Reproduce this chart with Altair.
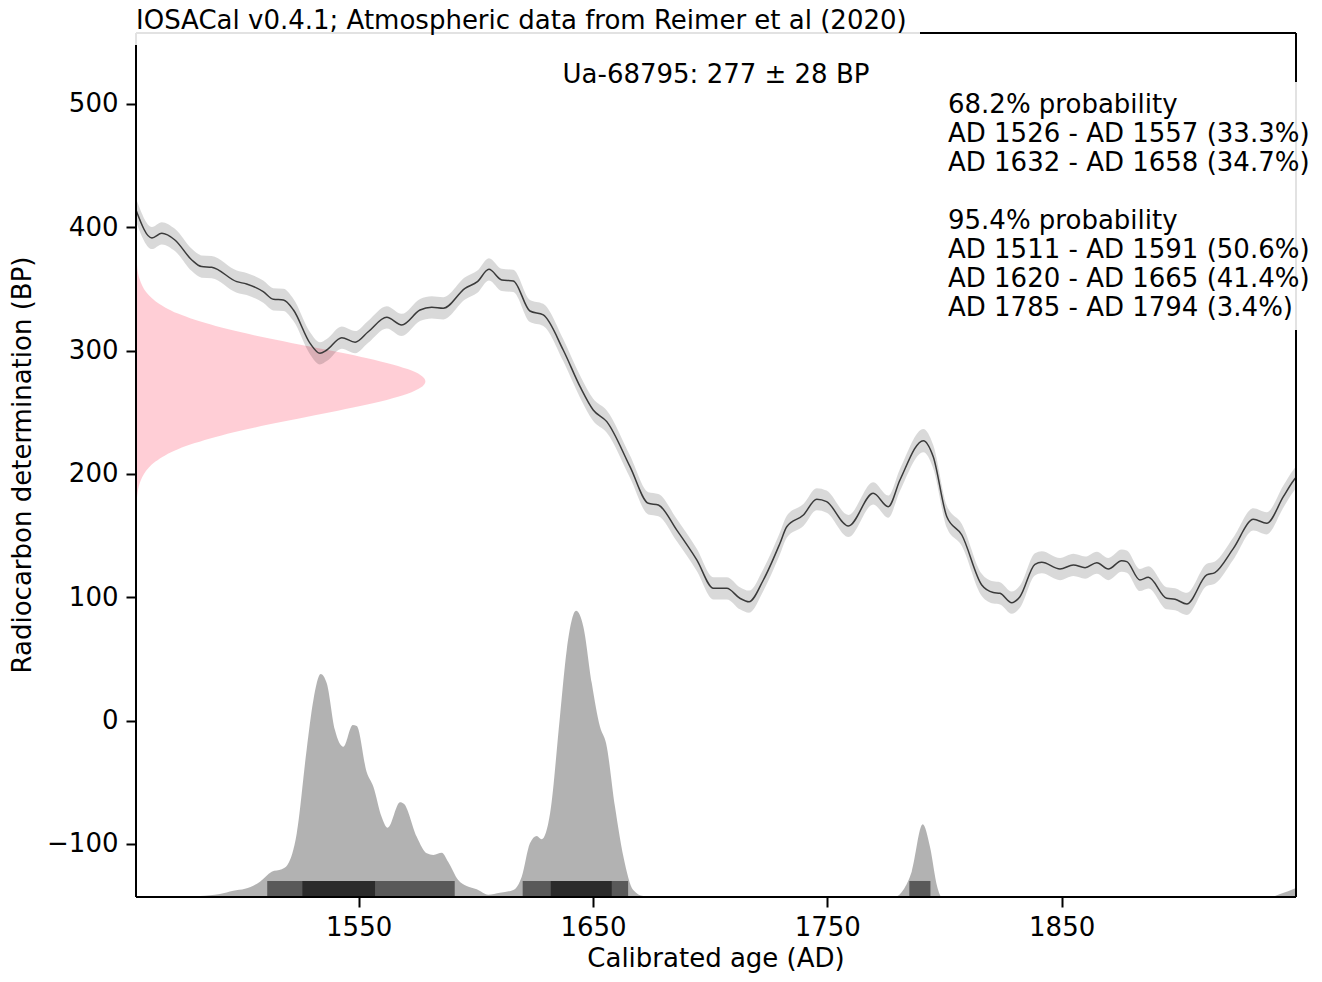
import altair as alt
import pandas as pd

FONT = "DejaVu Sans"
X_DOMAIN = [1455, 1950]
Y_DOMAIN = [-143, 557.5]
BASE_BP = -143

# --- calibration curve (IntCal20 section) ---
curve_year = [1455, 1461.8, 1466.0, 1471.6, 1478.8, 1483.0, 1487.3, 1498.0, 1502.2, 1509.3,
              1513.6, 1517.9, 1522.2, 1529.3, 1533.5, 1536.4, 1542.8, 1548.5, 1554.1, 1562.0,
              1568.4, 1576.2, 1581.2, 1586.1, 1595.4, 1600.7, 1605.6, 1611.1, 1616.0, 1623.1,
              1628.8, 1637.3, 1644.5, 1650.1, 1655.9, 1665.8, 1673.6, 1677.9, 1685.7, 1694.3,
              1701.4, 1707.1, 1712.7, 1716.6, 1722.7, 1729.8, 1732.7, 1739.8, 1745.5, 1749.7,
              1759.0, 1769.6, 1776.0, 1781.0, 1791.0, 1795.2, 1801.0, 1807.4, 1815.9, 1820.8,
              1823.7, 1828.7, 1832.2, 1838.6, 1841.5, 1849.3, 1855.0, 1860.0, 1865.0, 1869.9,
              1875.6, 1877.8, 1883.4, 1887.0, 1894.8, 1898.4, 1903.4, 1911.9, 1915.4, 1923.3,
              1931.8, 1937.5, 1944.6, 1948.9, 1950]
curve_bp = [414.0, 391.3, 395.1, 389.7, 373.5, 368.1, 367.6, 355.9, 354.0, 347.8,
            341.6, 341.1, 332.9, 305.9, 297.8, 300.5, 310.5, 306.8, 315.3, 327.0,
            320.8, 332.9, 335.1, 334.3, 350.5, 355.9, 365.9, 357.3, 356.5, 332.1,
            328.9, 300.5, 270.8, 251.9, 242.4, 205.9, 176.2, 174.8, 154.6, 130.3,
            107.3, 107.3, 99.2, 96.4, 114.0, 143.8, 157.2, 166.7, 179.5, 177.5,
            157.8, 184.3, 173.5, 195.1, 227.0, 214.0, 165.3, 150.5, 110.0, 103.9,
            103.2, 95.6, 100.5, 126.7, 128.4, 122.9, 126.2, 124.0, 128.0, 122.9,
            129.7, 128.9, 114.0, 116.2, 99.2, 98.4, 94.6, 118.1, 120.0, 139.7,
            163.2, 160.0, 181.6, 194.5, 197.1]
curve_err = [9.5, 9.0, 9.0, 9.0, 9.0, 9.0, 9.0, 9.0, 9.0, 9.0,
             9.0, 9.0, 9.0, 9.0, 9.0, 9.0, 9.0, 9.0, 9.0, 9.0,
             9.0, 9.0, 9.0, 9.0, 9.0, 9.0, 9.0, 9.0, 9.0, 9.0,
             9.0, 9.0, 9.0, 9.0, 9.0, 9.0, 9.0, 9.0, 9.0, 9.0,
             9.0, 9.0, 9.0, 9.0, 9.0, 9.0, 9.0, 9.0, 9.0, 9.0,
             9.0, 9.0, 9.0, 9.0, 9.5, 9.5, 9.0, 9.0, 9.0, 9.0,
             9.0, 9.0, 9.0, 9.0, 9.0, 9.0, 9.0, 9.0, 9.0, 9.0,
             9.0, 9.0, 9.0, 9.0, 9.0, 9.0, 9.0, 9.0, 9.0, 9.0,
             9.0, 9.0, 9.0, 9.0, 9.0]

# --- radiocarbon date distribution (pink), width in years from the left edge ---
date_bp = [175, 180, 185, 190, 195, 200, 205, 210, 215, 220, 225, 230, 235, 240, 245,
           250, 255, 260, 265, 270, 275, 280, 285, 290, 295, 300, 305, 310, 315, 320,
           325, 330, 335, 340, 345, 350, 355, 360, 365, 370, 375]
date_width = [0.2, 0.4, 0.7, 1.2, 2.1, 3.4, 5.4, 8.3, 12.4, 17.9, 25.1, 34.0, 44.5, 56.5, 69.6,
              82.9, 95.7, 107.0, 115.9, 121.5, 123.5, 121.5, 115.9, 107.0, 95.7, 82.9, 69.6, 56.5,
              44.5, 34.0, 25.1, 17.9, 12.4, 8.3, 5.4, 3.4, 2.1, 1.2, 0.7, 0.4, 0.2]

# --- calibrated age distribution (grey), height in BP-axis units above baseline ---
cal_year = [1455, 1469.5, 1482.3, 1490.8, 1496.5, 1501.5, 1507.9, 1512.9, 1517.2, 1519.6,
            1523.6, 1527.8, 1530.7, 1533.8, 1536.4, 1539.9, 1543.5, 1547.5, 1549.2, 1553.4,
            1556.3, 1559.8, 1562.4, 1567.7, 1569.4, 1574.8, 1579.1, 1581.9, 1585.5, 1588.2,
            1592.5, 1596.1, 1600.4, 1605.3, 1610.3, 1616.0, 1619.6, 1623.1, 1626.0, 1628.1,
            1631.7, 1635.9, 1638.8, 1642.8, 1645.9, 1649.5, 1653.0, 1655.6, 1659.4, 1663.0,
            1667.2, 1671.5, 1678.6, 1764.0, 1768.2, 1772.5, 1778.9, 1782.4, 1786.0, 1790.7,
            1793.8, 1796.9, 1798.8, 1802.4, 1938.9, 1943.2, 1950]
cal_height = [0, 0.4, 0.8, 2.4, 5.1, 6.7, 12.4, 20.5, 22.5, 25.9,
              51.6, 119.2, 159.7, 180.8, 173.3, 135.4, 121.9, 139.5, 138.7, 101.6,
              89.4, 65.1, 56.2, 76.8, 75.4, 48.9, 35.4, 34.1, 35.9, 28.6,
              13.8, 8.9, 6.2, 1.9, 3.5, 5.7, 16.5, 43.5, 49.5, 46.8,
              67.9, 146.2, 200.3, 232.1, 219.2, 173.3, 138.1, 124.6, 73.2, 32.7,
              5.7, 0.8, 0, 0, 0.6, 0.4, 0.2, 5.7, 20.5, 58.9,
              40.8, 8.4, 0.2, 0, 0, 2.4, 7.3]

# --- highest density ranges ---
hpd95_start = [1511, 1620, 1785]
hpd95_end = [1591, 1665, 1794]
hpd68_start = [1526, 1632]
hpd68_end = [1557, 1658]

title_text = "IOSACal v0.4.1; Atmospheric data from Reimer et al (2020)"
date_label = "Ua-68795: 277 ± 28 BP"
prob68_lines = ["68.2% probability",
                "AD 1526 - AD 1557 (33.3%)",
                "AD 1632 - AD 1658 (34.7%)"]
prob95_lines = ["95.4% probability",
                "AD 1511 - AD 1591 (50.6%)",
                "AD 1620 - AD 1665 (41.4%)",
                "AD 1785 - AD 1794 (3.4%)"]
x_title = "Calibrated age (AD)"
y_title = "Radiocarbon determination (BP)"
x_ticks = [1550, 1650, 1750, 1850]
y_ticks = [-100, 0, 100, 200, 300, 400, 500]

# ---------------- tables ----------------
curve = pd.DataFrame({"year": curve_year, "bp": curve_bp, "err": curve_err})
curve["lo"] = curve["bp"] - curve["err"]
curve["hi"] = curve["bp"] + curve["err"]

date = pd.DataFrame({"bp": date_bp, "w": date_width})
date["x1"] = X_DOMAIN[0]
date["x2"] = X_DOMAIN[0] + date["w"]

cal = pd.DataFrame({"year": cal_year, "h": cal_height})
cal["top"] = BASE_BP + cal["h"]
cal["base"] = BASE_BP

BAR_H = 13
h95 = pd.DataFrame({"s": hpd95_start, "e": hpd95_end})
h95["b"] = BASE_BP
h95["t"] = BASE_BP + BAR_H
h68 = pd.DataFrame({"s": hpd68_start, "e": hpd68_end})
h68["b"] = BASE_BP
h68["t"] = BASE_BP + BAR_H

xs = alt.Scale(domain=X_DOMAIN, nice=False, zero=False)
ys = alt.Scale(domain=Y_DOMAIN, nice=False, zero=False)
xaxis = alt.Axis(values=x_ticks, format="d", title=None, grid=False, domain=False)
yaxis = alt.Axis(values=y_ticks, format="d", title=None, grid=False, domain=False)

pink = alt.Chart(date).mark_area(orient="horizontal", color="#ffc0cb", opacity=0.78,
                                 interpolate="monotone").encode(
    y=alt.Y("bp:Q", scale=ys, axis=yaxis),
    x=alt.X("x2:Q", scale=xs, axis=xaxis),
    x2="x1:Q",
)

dist = alt.Chart(cal).mark_area(color="#000000", opacity=0.3, interpolate="monotone").encode(
    x=alt.X("year:Q", scale=xs, axis=xaxis),
    y=alt.Y("top:Q", scale=ys, axis=yaxis),
    y2="base:Q",
)

band = alt.Chart(curve).mark_area(color="#000000", opacity=0.15, interpolate="monotone").encode(
    x=alt.X("year:Q", scale=xs, axis=xaxis),
    y=alt.Y("lo:Q", scale=ys, axis=yaxis),
    y2="hi:Q",
)

line = alt.Chart(curve).mark_line(color="#3a3a3a", strokeWidth=1.5, interpolate="monotone").encode(
    x=alt.X("year:Q", scale=xs, axis=xaxis),
    y=alt.Y("bp:Q", scale=ys, axis=yaxis),
)

bars95 = alt.Chart(h95).mark_rect(color="#595959").encode(
    x=alt.X("s:Q", scale=xs, axis=xaxis), x2="e:Q",
    y=alt.Y("b:Q", scale=ys, axis=yaxis), y2="t:Q",
)
bars68 = alt.Chart(h68).mark_rect(color="#2b2b2b").encode(
    x=alt.X("s:Q", scale=xs, axis=xaxis), x2="e:Q",
    y=alt.Y("b:Q", scale=ys, axis=yaxis), y2="t:Q",
)

one = pd.DataFrame({"k": [0]})
W, H = 1160, 864
GREY = "#e2e2e2"


def seg(x, x2, y, y2, color):
    return alt.Chart(one).mark_rule(color=color, strokeWidth=2).encode(
        x=alt.value(x), x2=alt.value(x2), y=alt.value(y), y2=alt.value(y2))


spines = [
    seg(0, W, H, H, "black"),
    seg(0, 0, 12, H, "black"),
    seg(0, 0, 0, 12, GREY),
    seg(0, 784, 0, 0, GREY),
    seg(784, W, 0, 0, "black"),
    seg(W, W, 0, 49, "black"),
    seg(W, W, 49, 297, GREY),
    seg(W, W, 297, H, "black"),
]


def txt(text, x, y, align="left", angle=0, line_height=None):
    kw = dict(font=FONT, fontSize=26, color="black", align=align, baseline="alphabetic")
    if angle:
        kw["angle"] = angle
    if line_height:
        kw["lineHeight"] = line_height
    return alt.Chart(one).mark_text(**kw).encode(
        x=alt.value(x), y=alt.value(y), text=alt.value(text))


LINE_H = 29
texts = [
    txt(title_text, 0, -4.0),
    txt(date_label, 580, 50, align="center"),
    txt(prob68_lines, 812, 80.3, line_height=LINE_H),
    txt(prob95_lines, 812, 80.3 + 4 * LINE_H, line_height=LINE_H),
    txt(x_title, 580, 934, align="center"),
    txt(y_title, -105, 432, align="center", angle=270),
]

chart = alt.layer(pink, dist, band, line, bars95, bars68, *spines, *texts).properties(
    width=W, height=H,
    autosize=alt.AutoSizeParams(type="none"),
    padding={"left": 128, "top": 25, "right": 17, "bottom": 77},
).configure_view(strokeWidth=0).configure_axis(
    labelFont=FONT, labelFontSize=26, labelColor="black",
    tickColor="black", tickWidth=2, tickSize=10, labelPadding=7,
).configure_axisY(labelPadding=8)

chart.save("out.html", embed_options={"renderer": "svg", "actions": False})
